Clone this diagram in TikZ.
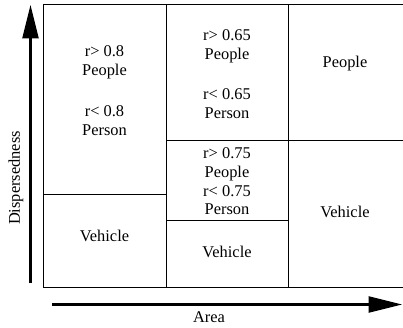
\documentclass[tikz,border=0pt]{standalone}
\usepackage{fontspec}
\setmainfont{Liberation Serif}
\usetikzlibrary{arrows.meta}
\begin{document}
\begin{tikzpicture}[x=0.75pt,y=0.75pt,yscale=-1,xscale=1,
  cell/.style={line width=0.75pt},
  axis/.style={line width=1.6pt,-{Triangle[length=25pt,width=12pt]}},
  lbl/.style={inner sep=0.75pt,align=center,font=\fontsize{12.3}{14.2}\selectfont}]
\useasboundingbox (0,0) rectangle (403,328);

%Shape: Outer frame
\draw [cell] (403,5) -- (43,5) -- (43,287) -- (403,287) ;
%Straight Lines: columns
\draw [cell] (166,5) -- (166,287) ;
\draw [cell] (288,5) -- (288,287) ;
%Straight Lines: rows
\draw [cell] (43,194.5) -- (166,194.5) ;
\draw [cell] (166,140) -- (403,140) ;
\draw [cell] (166,220) -- (288,220) ;

%Axes
\coordinate (ybot) at (30.5,283) ;
\coordinate (ytop) at (30.5,5) ;
\coordinate (xleft) at (52,304.5) ;
\coordinate (xright) at (402,304.5) ;
\draw [axis] (ybot) -- (ytop) ;
\draw [axis] (xleft) -- (xright) ;

% Text Node
\node [lbl] (hiA) at (104.5,62) {r> 0.8\\People};
% Text Node
\node [lbl] (loA) at (104.5,121) {r< 0.8\\Person};
% Text Node
\node [lbl] (vehA) at (104.5,236) {Vehicle};
% Text Node
\node [lbl] (hiB) at (227,46.5) {r> 0.65\\People};
% Text Node
\node [lbl] (loB) at (227,103.5) {r< 0.65\\Person};
% Text Node
\node [lbl,font=\fontsize{12.3}{14}\selectfont] (midB) at (227,181.5) {r> 0.75\\People\\r< 0.75\\Person};
% Text Node
\node [lbl] (vehB) at (227,252) {Vehicle};
% Text Node
\node [lbl] (pplC) at (345,63.5) {People};
% Text Node
\node [lbl] (vehC) at (345,211.5) {Vehicle};
% Text Node
\node [lbl] (area) at (209,317) {Area};
% Text Node
\node [lbl,rotate=90] (disp) at (16,178) {Dispersedness};
\end{tikzpicture}
\end{document}
